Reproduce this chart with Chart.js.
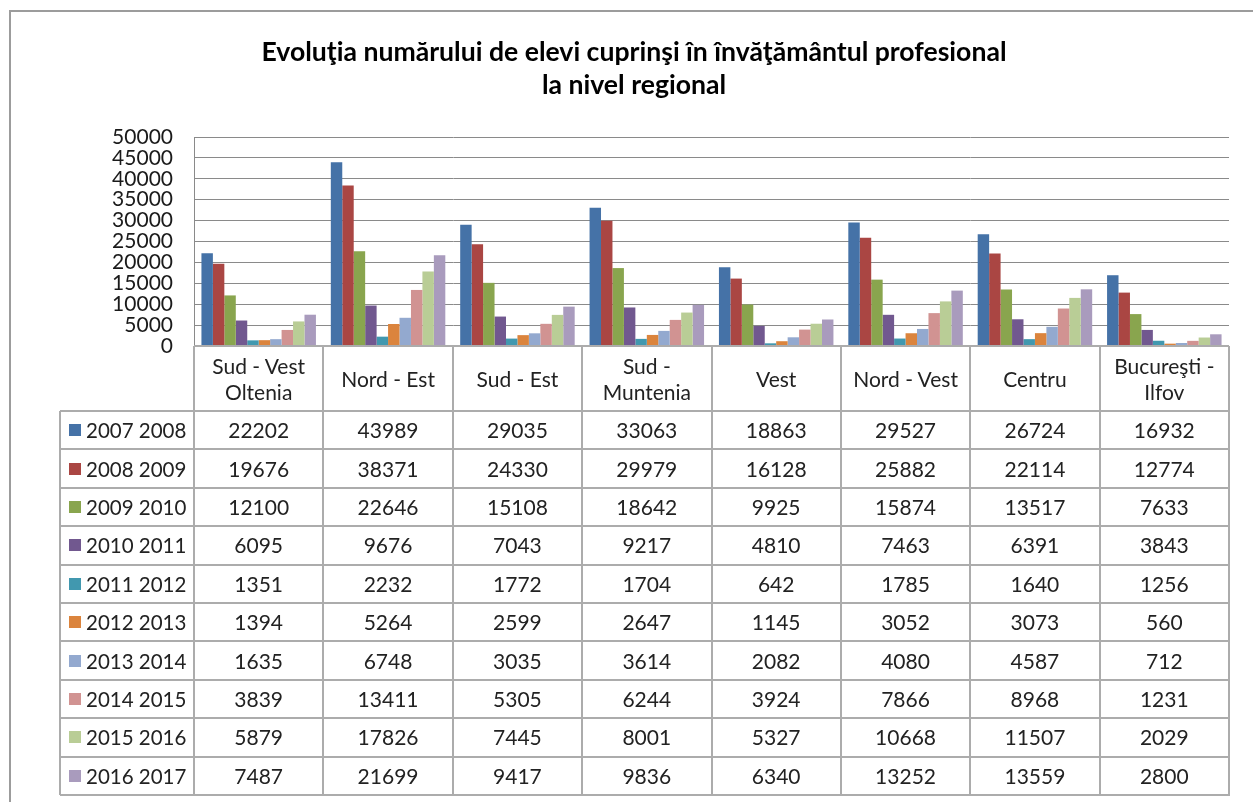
<!DOCTYPE html>
<html>
<head>
<meta charset="utf-8">
<title>Evoluţia numărului de elevi</title>
<script src="https://cdn.jsdelivr.net/npm/chart.js@4.4.1/dist/chart.umd.min.js"></script>
<style>
  html, body { margin: 0; padding: 0; background: #fff; }
  #wrap { position: relative; width: 1253px; height: 802px; overflow: hidden; }
  #frame {
    position: absolute; left: 9px; top: 10px; width: 1400px; height: 1000px;
    border: 2px solid #9c9c9c; box-sizing: border-box;
  }
  #title {
    position: absolute; left: 334px; top: 35px; width: 600px; margin: 0;
    text-align: center; white-space: nowrap;
    font-family: Lato, 'Noto Sans', sans-serif; font-weight: bold; font-size: 26.6px; line-height: 33px; color: #000;
  }
  #title span { display: block; margin: 0 -300px; }
  #chart { position: absolute; left: 0; top: 0; }
  #table { position: absolute; left: 0; top: 0; width: 1253px; height: 802px; }
  .cell {
    position: absolute; box-sizing: border-box;
    display: flex; align-items: center; justify-content: center; text-align: center;
    font-family: Lato, 'Noto Sans', sans-serif; font-size: 21px; line-height: 26px; color: #222;
  }
  .leg { justify-content: flex-start; font-size: 20.5px; }
  .sw { display: inline-block; width: 12px; height: 12px; margin: 0 5px 0 9px; }
  .ln { position: absolute; background: #acacac; }
</style>
</head>
<body>
<div id="wrap">
  <div id="frame"></div>
  <canvas id="chart" width="1253" height="802"></canvas>
  <h1 id="title"><span>Evoluţia numărului de elevi cuprinşi în învăţământul profesional</span><span>la nivel regional</span></h1>
  <div id="table"></div>
</div>
<script>
/* ---- DATA ---- */
const regions = [
  ['Sud - Vest', 'Oltenia'],
  ['Nord - Est'],
  ['Sud - Est'],
  ['Sud -', 'Muntenia'],
  ['Vest'],
  ['Nord - Vest'],
  ['Centru'],
  ['Bucureşti -', 'Ilfov']
];
const years = ['2007 2008', '2008 2009', '2009 2010', '2010 2011', '2011 2012',
               '2012 2013', '2013 2014', '2014 2015', '2015 2016', '2016 2017'];

const v2007 = [22202, 43989, 29035, 33063, 18863, 29527, 26724, 16932];
const v2008 = [19676, 38371, 24330, 29979, 16128, 25882, 22114, 12774];
const v2009 = [12100, 22646, 15108, 18642, 9925, 15874, 13517, 7633];
const v2010 = [6095, 9676, 7043, 9217, 4810, 7463, 6391, 3843];
const v2011 = [1351, 2232, 1772, 1704, 642, 1785, 1640, 1256];
const v2012 = [1394, 5264, 2599, 2647, 1145, 3052, 3073, 560];
const v2013 = [1635, 6748, 3035, 3614, 2082, 4080, 4587, 712];
const v2014 = [3839, 13411, 5305, 6244, 3924, 7866, 8968, 1231];
const v2015 = [5879, 17826, 7445, 8001, 5327, 10668, 11507, 2029];
const v2016 = [7487, 21699, 9417, 9836, 6340, 13252, 13559, 2800];
const series = [v2007, v2008, v2009, v2010, v2011, v2012, v2013, v2014, v2015, v2016];

const yTickLabels = ['0', '5000', '10000', '15000', '20000', '25000',
                     '30000', '35000', '40000', '45000', '50000'];

const colors = ['#4572A7', '#AA4643', '#89A54E', '#71588F', '#4198AF',
                '#DB843D', '#93A9CF', '#D19392', '#B9CD96', '#A99BBD'];

/* ---- CHART ---- */
const FONT = 'Lato, "Noto Sans", sans-serif';
const GRID = '#8a8a8a';

const chart = new Chart(document.getElementById('chart'), {
  type: 'bar',
  data: {
    labels: regions.map(r => r.join(' ')),
    datasets: years.map((y, i) => ({
      label: y,
      data: series[i],
      backgroundColor: colors[i],
      borderWidth: 0
    }))
  },
  options: {
    responsive: false,
    animation: false,
    layout: { padding: { left: 0, right: 24, top: 137, bottom: 456 } },
    datasets: { bar: { categoryPercentage: 0.885, barPercentage: 1 } },
    plugins: {
      legend: { display: false },
      tooltip: { enabled: false }
    },
    scales: {
      x: { display: false },
      y: {
        min: 0,
        max: 50000,
        ticks: {
          stepSize: 5000,
          autoSkip: false,
          padding: 21,
          color: '#1a1a1a',
          font: { family: FONT, size: 21, lineHeight: 1 },
          callback: (v, i) => yTickLabels[i]
        },
        grid: { color: GRID, lineWidth: 1, drawTicks: false },
        border: { color: GRID, width: 1 },
        afterFit: s => { s.width = 194; }
      }
    }
  }
});

/* ---- DATA TABLE ---- */
const area = chart.chartArea;
const colW = (area.right - area.left) / regions.length;
const headTop = area.bottom;
const headH = 65;
const rowH = 38.4;
const legLeft = 60;
const tbl = document.getElementById('table');

function add(cls, style, html) {
  const d = document.createElement('div');
  d.className = cls;
  Object.assign(d.style, style);
  if (html !== undefined) d.innerHTML = html;
  tbl.appendChild(d);
  return d;
}

// header: region names
regions.forEach((r, i) => {
  add('cell', {
    left: (area.left + i * colW) + 'px', top: headTop + 'px',
    width: colW + 'px', height: headH + 'px'
  }, r.join('<br>'));
});

// rows: legend + values
years.forEach((y, j) => {
  const top = headTop + headH + j * rowH;
  add('cell leg', {
    left: legLeft + 'px', top: top + 'px',
    width: (area.left - legLeft) + 'px', height: rowH + 'px'
  }, '<span class="sw" style="background:' + colors[j] + '"></span>' + y);
  series[j].forEach((v, i) => {
    add('cell', {
      left: (area.left + i * colW) + 'px', top: top + 'px',
      width: colW + 'px', height: rowH + 'px'
    }, String(v));
  });
});

// grid lines
const bottom = headTop + headH + years.length * rowH;
add('ln', { left: area.left + 'px', top: (headTop - 1) + 'px', width: (area.right - area.left) + 'px', height: '2px' });
for (let j = 0; j <= years.length; j++) {
  const y = headTop + headH + j * rowH;
  add('ln', { left: legLeft + 'px', top: (y - 1) + 'px', width: (area.right - legLeft + 1) + 'px', height: '2px' });
}
for (let i = 0; i <= regions.length; i++) {
  const x = area.left + i * colW;
  add('ln', { left: (x - 1) + 'px', top: headTop + 'px', width: '2px', height: (bottom - headTop) + 'px' });
}
add('ln', { left: (legLeft - 1) + 'px', top: (headTop + headH) + 'px', width: '2px', height: (bottom - headTop - headH) + 'px' });
</script>
</body>
</html>
